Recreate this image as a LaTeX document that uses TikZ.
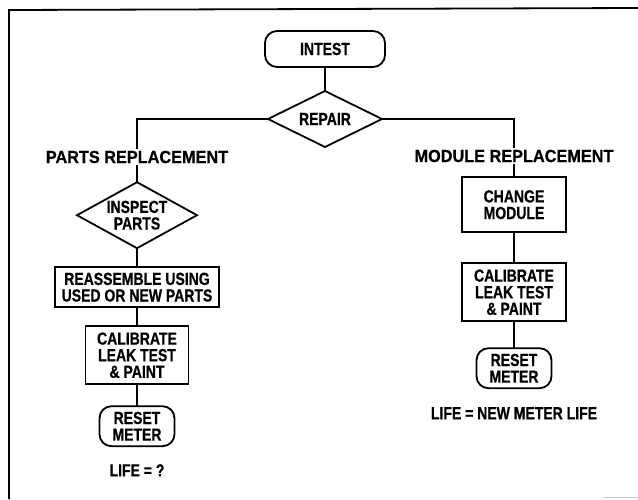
\documentclass[tikz,border=0pt]{standalone}
\usepackage{fontspec}
\setmainfont{Liberation Sans}[FakeStretch=0.8, FakeBold=0.6]
\newfontfamily\lblfont{Liberation Sans}[FakeStretch=0.93, FakeBold=0.6]
\usepackage{tikz}
\usetikzlibrary{positioning, shapes.geometric}

\begin{document}
\begin{tikzpicture}[x=1pt, y=-1pt, line width=1.8pt,
every node/.style={font=\fontsize{17.5}{16.6}\selectfont\bfseries, align=center, outer sep=0pt},
roundnode/.style={rectangle, rounded corners=12pt, draw, inner sep=0pt},
squarednode/.style={rectangle, draw, inner sep=0pt},
decisionnode/.style={diamond, draw, inner sep=0pt, aspect=2},
branchlabel/.style={inner xsep=0pt, inner ysep=2pt, font=\fontsize{17.5}{16.6}\lblfont\bfseries},
lifelabel/.style={inner sep=0pt},
]
\useasboundingbox (0,0) rectangle (638,499);

%Frame
\draw (9,499) -- (9,10) -- (638,8);
\draw[gray!40, line width=1pt] (603,497) -- (638,497);

%Nodes
\node[decisionnode, minimum width=114pt, minimum height=56pt] (repair) at (325,119) {REPAIR};
\node[roundnode, minimum width=120pt, minimum height=36pt] (intest) [above=24pt of repair] {INTEST};

\node[branchlabel] (partslbl) at (137,157) {PARTS REPLACEMENT};
\node[decisionnode, minimum width=120pt, minimum height=66pt] (inspect) [below=17pt of partslbl] {INSPECT\\PARTS};
\node[squarednode, minimum width=164pt, minimum height=40pt] (reassemble) [below=19pt of inspect] {REASSEMBLE USING\\USED OR NEW PARTS};
\node[squarednode, minimum width=103pt, minimum height=58pt] (calibl) [below=19pt of reassemble] {CALIBRATE\\LEAK TEST\\\& PAINT};
\node[roundnode, minimum width=75pt, minimum height=40pt] (resetl) [below=22pt of calibl] {RESET\\METER};
\node[lifelabel] (lifeq) [below=18pt of resetl] {LIFE = ?};

\node[branchlabel] (modlbl) at (514,156) {MODULE REPLACEMENT};
\node[squarednode, minimum width=104pt, minimum height=55pt] (change) [below=13pt of modlbl] {CHANGE\\MODULE};
\node[squarednode, minimum width=104pt, minimum height=58pt] (calibr) [below=31pt of change] {CALIBRATE\\LEAK TEST\\\& PAINT};
\node[roundnode, minimum width=75pt, minimum height=40pt] (resetr) [below=27pt of calibr] {RESET\\METER};
\node[lifelabel] (lifenew) [below=19pt of resetr] {LIFE = NEW METER LIFE};

%Lines
\draw (intest.south) -- (repair.north);
\draw (repair.west) -| (partslbl.north);
\draw (repair.east) -| (modlbl.north);
\draw (partslbl.south) -- (inspect.north);
\draw (inspect.south) -- (reassemble.north);
\draw (reassemble.south) -- (calibl.north);
\draw (calibl.south) -- (resetl.north);
\draw (modlbl.south) -- (change.north);
\draw (change.south) -- (calibr.north);
\draw (calibr.south) -- (resetr.north);
\end{tikzpicture}
\end{document}
